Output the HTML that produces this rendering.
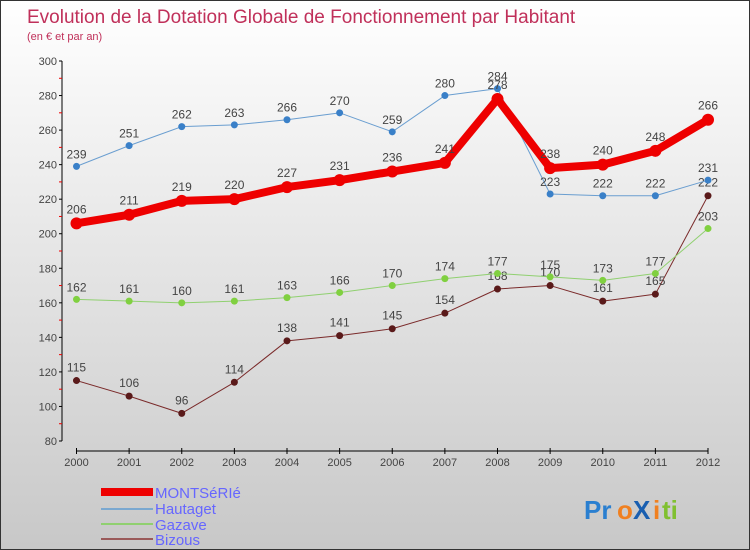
<!DOCTYPE html>
<html><head><meta charset="utf-8"><style>
body{margin:0}
#wrap{width:750px;height:550px;position:relative;overflow:hidden;background:linear-gradient(#ffffff,#c8c8c8);box-sizing:border-box;border:1px solid #333;font-family:"Liberation Sans",sans-serif}
svg text{font-family:"Liberation Sans",sans-serif}
</style></head><body>
<div id="wrap">
<svg id="chart" width="750" height="550">
<text x="26" y="22" font-size="19" fill="#c0305a">Evolution de la Dotation Globale de Fonctionnement par Habitant</text>
<text x="26" y="39" font-size="11" fill="#c0305a">(en € et par an)</text>
<g id="axes"></g>
<g id="series"></g>
<g id="legend">
<rect x="100" y="487" width="52" height="8" fill="#e00"/>
<text x="154" y="497" font-size="15" fill="#6666ff">MONTSéRIé</text>
<line x1="100" y1="508" x2="152" y2="508" stroke="#7aa8d0" stroke-width="2"/>
<text x="154" y="513" font-size="15" fill="#6666ff">Hautaget</text>
<line x1="100" y1="523" x2="152" y2="523" stroke="#90d070" stroke-width="2"/>
<text x="154" y="529" font-size="15" fill="#6666ff">Gazave</text>
<line x1="100" y1="538" x2="152" y2="538" stroke="#9a5a5a" stroke-width="2"/>
<text x="154" y="544" font-size="15" fill="#6666ff">Bizous</text>
</g>
<g font-size="26" font-weight="bold">
<text x="583" y="518" fill="#2a7fd0">Pr</text><text x="616" y="518" fill="#f08020">o</text><text x="632" y="518" fill="#1a5fb0">X</text><text x="652" y="518" fill="#f08020">i</text><text x="661" y="518" fill="#80c030">ti</text>
</g>
</svg>
</div>
<script>
const years=["2000","2001","2002","2003","2004","2005","2006","2007","2008","2009","2010","2011","2012"];
const yTicks=[80,100,120,140,160,180,200,220,240,260,280,300];
const montserie=[206,211,219,220,227,231,236,241,278,238,240,248,266];
const hautaget=[239,251,262,263,266,270,259,280,284,223,222,222,231];
const gazave=[162,161,160,161,163,166,170,174,177,175,173,177,203];
const bizous=[115,106,96,114,138,141,145,154,168,170,161,165,222];
const NS="http://www.w3.org/2000/svg";
const X0=75.5,X1=707,Y0=440,Y1=60,VMIN=80,VMAX=300;
function xs(i){return X0+(X1-X0)*i/(years.length-1);}
function ys(v){return Y0-(v-VMIN)/(VMAX-VMIN)*(Y0-Y1);}
function mk(tag,attrs,parent){const e=document.createElementNS(NS,tag);for(const k in attrs)e.setAttribute(k,attrs[k]);parent.appendChild(e);return e;}
const axes=document.getElementById('axes');
let ya=mk('line',{x1:61,y1:Y1,x2:61,y2:Y0,stroke:'#000'},axes);


yTicks.forEach(v=>{
 mk('line',{x1:58,x2:61,y1:ys(v),y2:ys(v),stroke:'#000'},axes);
 const t=mk('text',{x:56,y:ys(v)+4,'font-size':11,fill:'#444','text-anchor':'end'},axes);
 t.textContent=v;
 
 
 if(v<VMAX) mk('line',{x1:58,x2:61,y1:ys(v+10),y2:ys(v+10),stroke:'#e00'},axes);
});
let xa=mk('line',{x1:X0,y1:450,x2:X1,y2:450,stroke:'#000'},axes);


years.forEach((y,i)=>{
 mk('line',{x1:xs(i),x2:xs(i),y1:447,y2:453,stroke:'#000'},axes);
 const t=mk('text',{x:xs(i),y:465,'font-size':11,fill:'#444','text-anchor':'middle'},axes);
 t.textContent=y;
 
 
});
const ser=document.getElementById('series');
function draw(data,color,w,r,dot,name,labelDy){
 const g=mk('g',{},ser);
 
 
 const p=mk('polyline',{points:data.map((v,i)=>xs(i)+','+ys(v)).join(' '),fill:'none',stroke:color,'stroke-width':w,'stroke-linejoin':'round'},g);
 
 
 data.forEach((v,i)=>{
  const c=mk('circle',{cx:xs(i),cy:ys(v),r:r,fill:dot},g);
  
  
  const t=mk('text',{x:xs(i),y:ys(v)+labelDy,'font-size':12,fill:'#444','text-anchor':'middle'},g);
  t.textContent=v;
  
  
 });
}
draw(bizous,'#7a2a2a',1,3.5,'#5a1a1a','bizous',-9);
draw(gazave,'#90d070',1,3.5,'#80d040','gazave',-8);
draw(hautaget,'#6a9ed0',1,3.5,'#3a80c8','hautaget',-8);
draw(montserie,'#ee0000',8,6,'#ee0000','montserie',-10);
</script>
</body></html>
